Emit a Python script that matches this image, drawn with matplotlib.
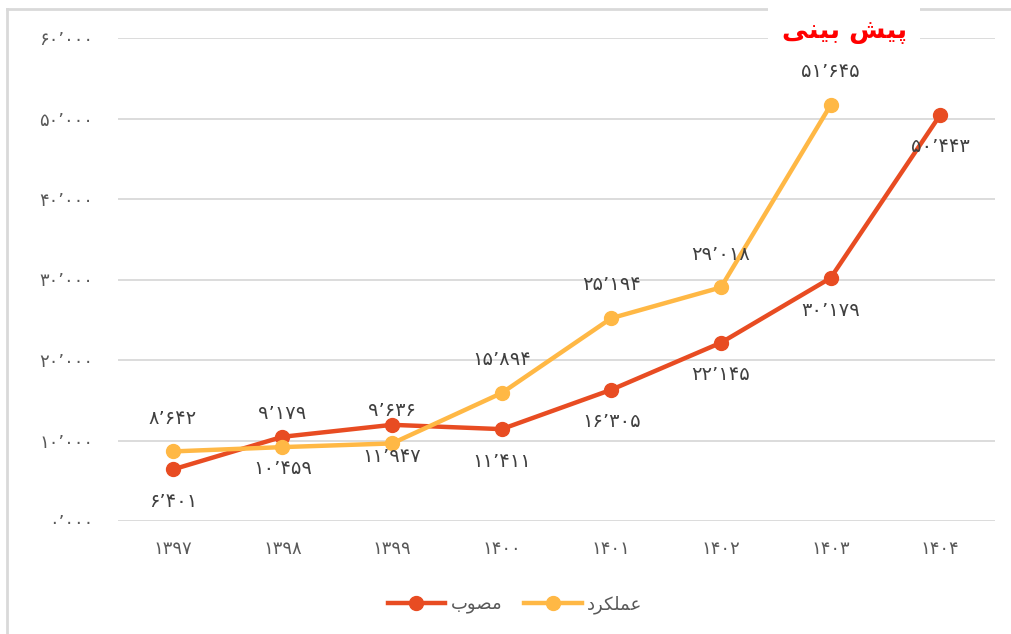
import matplotlib
matplotlib.use("Agg")
import matplotlib.pyplot as plt
from matplotlib.patches import Rectangle
from matplotlib.lines import Line2D

## data
years = ['1397', '1398', '1399', '1400', '1401', '1402', '1403', '1404']
approved = [6401, 10459, 11947, 11411, 16305, 22145, 30179, 50443]      # مصوب
actual = [8642, 9179, 9636, 15894, 25194, 29018, 51645]                 # عملکرد
yticks = [0, 10000, 20000, 30000, 40000, 50000, 60000]
ytick_labels = ['0,000', '10,000', '20,000', '30,000', '40,000', '50,000', '60,000']
title_txt = 'پیش بینی'
name_approved = 'مصوب'
name_actual = 'عملکرد'

RED = '#E84C22'
YEL = '#FFB845'
GRID = '#D9D9D9'
TXT = '#404040'

# matplotlib has no arabic shaping, so do it by hand for the letters used
forms = {
    'پ': ('\uFB56', '\uFB57', '\uFB58', '\uFB59'),
    'ی': ('\uFBFC', '\uFBFD', '\uFBFE', '\uFBFF'),
    'ش': ('\uFEB5', '\uFEB6', '\uFEB7', '\uFEB8'),
    'ب': ('\uFE8F', '\uFE90', '\uFE91', '\uFE92'),
    'ن': ('\uFEE5', '\uFEE6', '\uFEE7', '\uFEE8'),
    'م': ('\uFEE1', '\uFEE2', '\uFEE3', '\uFEE4'),
    'ص': ('\uFEB9', '\uFEBA', '\uFEBB', '\uFEBC'),
    'ع': ('\uFEC9', '\uFECA', '\uFECB', '\uFECC'),
    'ل': ('\uFEDD', '\uFEDE', '\uFEDF', '\uFEE0'),
    'ک': ('\uFB8E', '\uFB8F', '\uFB90', '\uFB91'),
    'و': ('\uFEED', '\uFEEE'),
    'ر': ('\uFEAD', '\uFEAE'),
    'د': ('\uFEA9', '\uFEAA'),
}


def shape(s):
    out = []
    for i, c in enumerate(s):
        if c not in forms:
            out.append(c)
            continue
        prev = s[i - 1] if i > 0 else ''
        nxt = s[i + 1] if i + 1 < len(s) else ''
        jp = prev in forms and len(forms[prev]) == 4
        jn = nxt in forms and len(forms[c]) == 4
        if jp and jn:
            k = 3
        elif jp:
            k = 1
        elif jn:
            k = 2
        else:
            k = 0
        out.append(forms[c][k])
    return ''.join(out[::-1])


def fa(n):
    s = f'{n:,}' if isinstance(n, int) else n
    return s.translate(str.maketrans('0123456789,', '۰۱۲۳۴۵۶۷۸۹\u066C'))


plt.rcParams['font.family'] = ['DejaVu Sans']

fig = plt.figure(figsize=(10.11, 6.34), dpi=100)
ax = fig.add_axes([118 / 1011, 1 - 521 / 634, 877 / 1011, 483 / 634])

x = list(range(len(years)))
ax.plot(x, approved, color=RED, lw=3.2, marker='o', ms=10, label=shape(name_approved), zorder=3)
ax.plot(x[:len(actual)], actual, color=YEL, lw=3.2, marker='o', ms=10, label=shape(name_actual), zorder=3)

for i, v in enumerate(actual):
    ax.annotate(fa(v), (i, v), xytext=(0, 24), textcoords='offset points',
                ha='center', va='center', fontsize=14, color=TXT)
for i, v in enumerate(approved):
    ax.annotate(fa(v), (i, v), xytext=(0, -23), textcoords='offset points',
                ha='center', va='center', fontsize=14, color=TXT)

ax.set_xlim(-0.5, len(years) - 0.5)
ax.set_ylim(0, 60000)
ax.set_yticks(yticks)
ax.set_yticklabels([fa(t) for t in ytick_labels], fontsize=13, color='#595959')
ax.set_xticks(x)
ax.set_xticklabels([fa(y) for y in years], fontsize=13, color='#595959')
ax.tick_params(length=0, pad=18)
ax.tick_params(axis='x', pad=14)
ax.yaxis.grid(color=GRID, lw=1.3)
ax.set_axisbelow(True)
for sp in ax.spines.values():
    sp.set_visible(False)

leg = ax.legend(loc='center', bbox_to_anchor=(515 / 1011, 1 - 605 / 634), bbox_transform=fig.transFigure,
                ncol=2, frameon=False, fontsize=13, handlelength=3.2, columnspacing=1.2, handletextpad=0.3)
for t in leg.get_texts():
    t.set_color('#595959')

# outer frame (top and left only visible)
fig.add_artist(Line2D([7 / 1011, 7 / 1011], [0, 1 - 9 / 634], color=GRID, lw=2, transform=fig.transFigure))
fig.add_artist(Line2D([7 / 1011, 1], [1 - 9 / 634, 1 - 9 / 634], color=GRID, lw=2, transform=fig.transFigure))

# title box
fig.add_artist(Rectangle((768 / 1011, 1 - 50 / 634), 152 / 1011, 48 / 634, transform=fig.transFigure,
                         facecolor='white', edgecolor='none', zorder=5))
fig.text(845 / 1011, 1 - 31 / 634, shape(title_txt), ha='center', va='center', fontsize=19,
         fontweight='bold', color='#FF0000', zorder=6)

fig.savefig('out.png', dpi=100)
